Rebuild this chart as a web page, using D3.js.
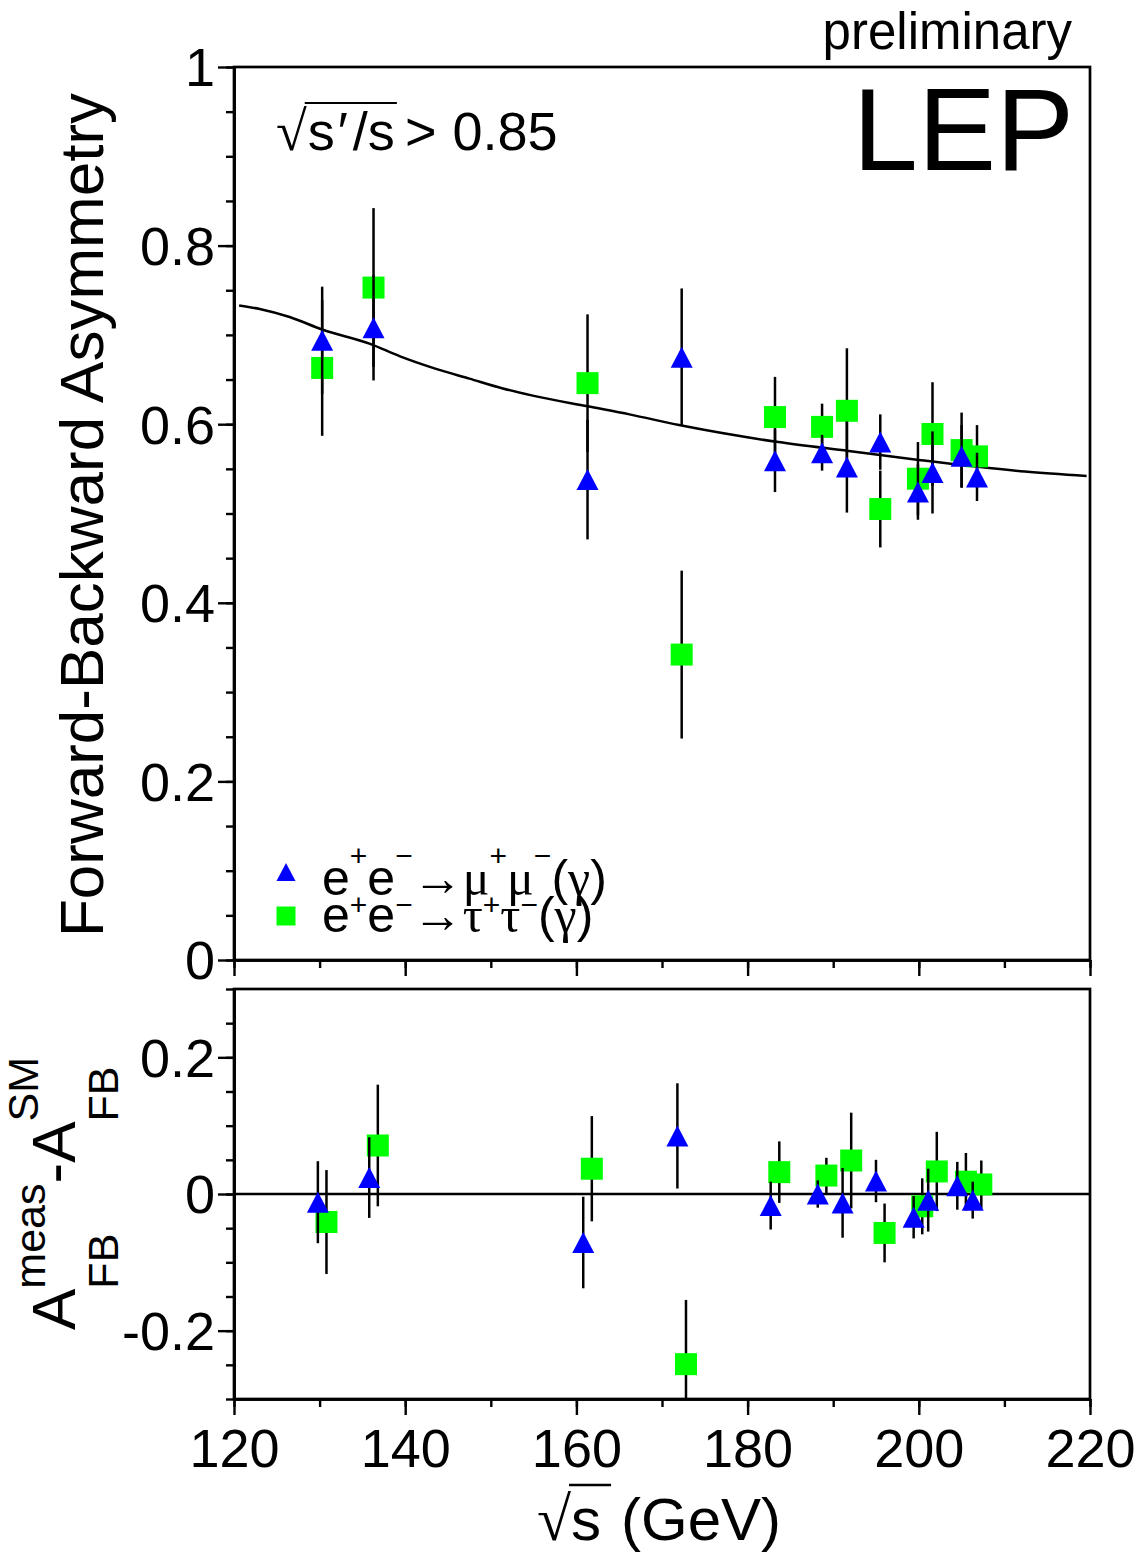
<!DOCTYPE html>
<html>
<head>
<meta charset="utf-8">
<style>
	body { margin: 0; background: #fff; }
	svg { display: block; }
</style>
<script src="https://d3js.org/d3.v7.min.js"></script>
</head>
<body>
<div id="chart"></div>
<script>
'use strict';

// centre-of-mass energies of the LEP2 points (GeV)
var energies = [130.3, 136.3, 161.3, 172.3, 183.2, 188.7, 191.6, 195.5, 199.9, 201.6, 205.0, 206.8];

// e+e- -> mu+mu-(gamma)
var muonAfb = [0.694, 0.708, 0.538, 0.675, 0.559, 0.568, 0.552, 0.580, 0.524, 0.546, 0.564, 0.541];
var muonErr = [0.060, 0.059, 0.067, 0.077, 0.035, 0.020, 0.051, 0.031, 0.031, 0.046, 0.035, 0.027];
var muonDiff = [-0.012, 0.024, -0.071, 0.085, -0.017, 0.000, -0.013, 0.019, -0.034, -0.009, 0.012, -0.009];

// e+e- -> tau+tau-(gamma)
var tauAfb = [0.663, 0.753, 0.646, 0.342, 0.608, 0.597, 0.615, 0.505, 0.539, 0.589, 0.571, 0.564];
var tauErr = [0.076, 0.089, 0.077, 0.094, 0.045, 0.026, 0.070, 0.043, 0.041, 0.058, 0.042, 0.035];
var tauDiff = [-0.041, 0.071, 0.037, -0.249, 0.032, 0.027, 0.049, -0.057, -0.018, 0.033, 0.018, 0.014];

// standard model expectation
var smEnergy = [120.6, 123, 126.5, 130.3, 135.9, 139.4, 143.6, 147.5, 151.4, 154.9, 161.3, 166.2, 172, 183.6, 191.8, 200, 212.4, 219.6];
var smAfb = [0.733, 0.729, 0.720, 0.706, 0.690, 0.676, 0.662, 0.651, 0.640, 0.632, 0.620, 0.611, 0.599, 0.580, 0.570, 0.560, 0.547, 0.542];

// tick labels
var xTickLabels = [120, 140, 160, 180, 200, 220];
var topTickLabels = [0, 0.2, 0.4, 0.6, 0.8, 1];
var bottomTickLabels = [-0.2, 0, 0.2];

(function(){

	var width = 1148, height = 1552;
	var sans = '"Liberation Sans", Arial, Helvetica, sans-serif';
	var serif = '"Liberation Serif", "Times New Roman", serif';
	var blue = '#0000ff', green = '#00ff00';

	var svg = d3.select('#chart')
		.append('svg')
		.attr('width', width)
		.attr('height', height)
		.style('background', '#fff');

	// scales
	var x = d3.scaleLinear().domain([120, 220]).range([234, 1090]);
	var yTop = d3.scaleLinear().domain([0, 1]).range([960, 67]);
	var yBot = d3.scaleLinear().domain([-0.3, 0.3]).range([1399, 989]);

	var fmt = function (d) { return String(+d.toFixed(2)); };

	// draws minor + major ticks of one axis
	function axis(make, scale, majors, minors, pos, labels, pad) {
		var g = svg.append('g').attr('transform', pos);
		g.append('g').call(make(scale).tickValues(minors).tickSize(8).tickSizeOuter(0).tickFormat(''));
		g.append('g').call(make(scale).tickValues(majors).tickSize(16).tickSizeOuter(0)
			.tickPadding(pad).tickFormat(labels ? fmt : ''));
		g.selectAll('path.domain').attr('stroke', '#000').attr('stroke-width', 2.7);
		g.selectAll('.tick line').attr('stroke', '#000').attr('stroke-width', 2.4);
		g.selectAll('text')
			.attr('font-family', sans)
			.attr('font-size', 54)
			.attr('fill', '#000');
		return g;
	}

	var xMinor = d3.range(120, 221, 10);
	var topMinor = d3.range(0, 21).map(function (i) { return i / 20; });
	var botMinor = d3.range(-6, 7).map(function (i) { return i / 20; });

	// frames
	[[67, 960], [989, 1399]].forEach(function (f) {
		svg.append('rect')
			.attr('x', x(120)).attr('y', f[0])
			.attr('width', x(220) - x(120)).attr('height', f[1] - f[0])
			.attr('fill', 'none').attr('stroke', '#000').attr('stroke-width', 2.7);
	});

	axis(d3.axisBottom, x, xTickLabels, xMinor, 'translate(0,' + yTop(0) + ')', false, 14);
	axis(d3.axisLeft, yTop, topTickLabels, topMinor, 'translate(' + x(120) + ',0)', true, 3)
		.selectAll('text').attr('dy', '0.35em');
	axis(d3.axisBottom, x, xTickLabels, xMinor, 'translate(0,' + yBot(-0.3) + ')', true, 14);
	axis(d3.axisLeft, yBot, bottomTickLabels, botMinor, 'translate(' + x(120) + ',0)', true, 3)
		.selectAll('text').attr('dy', '0.35em');

	// chained text pieces (super/subscripts); back = start at previous piece
	function chain(parent, x0, y0, parts) {
		var cursor = x0, lastStart = x0, out = [];
		parts.forEach(function (p) {
			var start = p.back ? lastStart : cursor;
			var t = parent.append('text')
				.attr('x', start)
				.attr('y', y0 + (p.dy || 0))
				.attr('font-family', p.font || sans)
				.attr('font-size', p.size)
				.attr('fill', '#000')
				.text(p.t);
			var end = start + t.node().getComputedTextLength();
			cursor = (p.back ? Math.max(cursor, end) : end) + (p.gap || 0);
			lastStart = start;
			out.push({ start: start, end: end });
		});
		return out;
	}

	// markers
	var triPath = 'M0,-10.5L11,10.5L-11,10.5Z';
	var sqPath = 'M-11,-11H11V11H-11Z';

	function series(g, yScale, vals, errs, path, color, shift) {
		var pts = energies.map(function (e, i) {
			return { e: e, v: vals[i], err: errs[i] };
		});
		g.selectAll(null)
			.data(pts)
			.enter()
			.append('line')
			.attr('x1', function (d) { return x(d.e) + shift; })
			.attr('x2', function (d) { return x(d.e) + shift; })
			.attr('y1', function (d) { return yScale(d.v - d.err); })
			.attr('y2', function (d) { return yScale(d.v + d.err); })
			.attr('stroke', '#000')
			.attr('stroke-width', 2.5);
		g.selectAll(null)
			.data(pts)
			.enter()
			.append('path')
			.attr('d', path)
			.attr('transform', function (d) {
				return 'translate(' + (x(d.e) + shift) + ',' + yScale(d.v) + ')';
			})
			.attr('fill', color);
	}

	// upper panel: SM curve + measurements
	var smLine = d3.line()
		.x(function (d, i) { return x(d); })
		.y(function (d, i) { return yTop(smAfb[i]); })
		.curve(d3.curveMonotoneX);

	svg.append('path')
		.attr('d', smLine(smEnergy))
		.attr('fill', 'none')
		.attr('stroke', '#000')
		.attr('stroke-width', 2.5);

	var top = svg.append('g');
	series(top, yTop, tauAfb, tauErr, sqPath, green, 0);
	series(top, yTop, muonAfb, muonErr, triPath, blue, 0);

	// lower panel: difference to SM
	svg.append('clipPath').attr('id', 'botClip')
		.append('rect')
		.attr('x', x(120)).attr('y', yBot(0.3))
		.attr('width', x(220) - x(120)).attr('height', yBot(-0.3) - yBot(0.3));

	var bot = svg.append('g').attr('clip-path', 'url(#botClip)');
	bot.append('line')
		.attr('x1', x(120)).attr('x2', x(220))
		.attr('y1', yBot(0)).attr('y2', yBot(0))
		.attr('stroke', '#000').attr('stroke-width', 2.7);
	series(bot, yBot, tauDiff, tauErr, sqPath, green, 4.3);
	series(bot, yBot, muonDiff, muonErr, triPath, blue, -4.3);

	// legend
	var leg = svg.append('g');
	leg.append('path').attr('d', 'M0,-9L9.5,9L-9.5,9Z')
		.attr('transform', 'translate(286,872)').attr('fill', blue);
	leg.append('path').attr('d', 'M-9.5,-9.5H9.5V9.5H-9.5Z')
		.attr('transform', 'translate(286,916)').attr('fill', green);

	// one text per row, scripts as tspans
	function reaction(y0, lepton, sup) {
		var row = [
			['e', 0], ['+', 1], ['e', 0], ['\u2212', 1], ['\u2192', 2],
			[lepton, 2], ['+', 1], [lepton, 2], ['\u2212', 1],
			['(', 0], ['\u03b3', 2], [')', 0]
		];
		var t = leg.append('text')
			.attr('x', 322).attr('y', y0)
			.attr('font-family', sans)
			.attr('font-size', 50)
			.attr('fill', '#000');
		var raised = false;
		row.forEach(function (r) {
			var s = t.append('tspan').text(r[0]);
			if (r[1] === 1) {
				s.attr('font-size', 30).attr('dy', raised ? 0 : sup);
				raised = true;
			} else {
				if (raised) s.attr('dy', -sup);
				raised = false;
				if (r[1] === 2) s.attr('font-family', serif);
			}
		});
	}
	reaction(895, '\u03bc', -29);
	reaction(932, '\u03c4', -17);

	// cut label
	var cut = svg.append('g');
	var c = chain(cut, 276, 150, [
		{ t: '\u221a', size: 56, font: serif, gap: 1 },
		{ t: 's', size: 54, gap: 3 },
		{ t: '\u2032', size: 54, gap: 5 },
		{ t: '/s', size: 54, gap: 10 },
		{ t: '>', size: 54, gap: 16 },
		{ t: '0.85', size: 54 }
	]);
	cut.append('line')
		.attr('x1', c[0].end - 2).attr('x2', c[3].end + 2)
		.attr('y1', 103).attr('y2', 103)
		.attr('stroke', '#000').attr('stroke-width', 2.2);

	// top right texts
	svg.append('text')
		.attr('x', 1072).attr('y', 49)
		.attr('text-anchor', 'end')
		.attr('font-family', sans).attr('font-size', 51)
		.text('preliminary');
	svg.append('text')
		.attr('x', 1074).attr('y', 170)
		.attr('text-anchor', 'end')
		.attr('font-family', sans).attr('font-size', 117)
		.text('LEP');

	// x title
	var xt = svg.append('g');
	var xs = chain(xt, 537, 1540, [
		{ t: '\u221a', size: 62, font: serif },
		{ t: 's', size: 60, gap: 20 },
		{ t: '(GeV)', size: 60 }
	]);
	xt.append('line')
		.attr('x1', xs[0].end - 2).attr('x2', xs[1].end + 10)
		.attr('y1', 1485).attr('y2', 1485)
		.attr('stroke', '#000').attr('stroke-width', 2.4);

	// y titles
	svg.append('text')
		.attr('transform', 'translate(103,515) rotate(-90)')
		.attr('text-anchor', 'middle')
		.attr('font-family', sans).attr('font-size', 62)
		.text('Forward-Backward Asymmetry');

	var yt = svg.append('g').attr('transform', 'translate(75,1330) rotate(-90)');
	chain(yt, 0, 0, [
		{ t: 'A', size: 62 },
		{ t: 'meas', size: 43, dy: -30 },
		{ t: 'FB', size: 43, dy: 43, back: true },
		{ t: '-', size: 62 },
		{ t: 'A', size: 62 },
		{ t: 'SM', size: 43, dy: -37 },
		{ t: 'FB', size: 43, dy: 43, back: true }
	]);

}());
</script>
</body>
</html>
